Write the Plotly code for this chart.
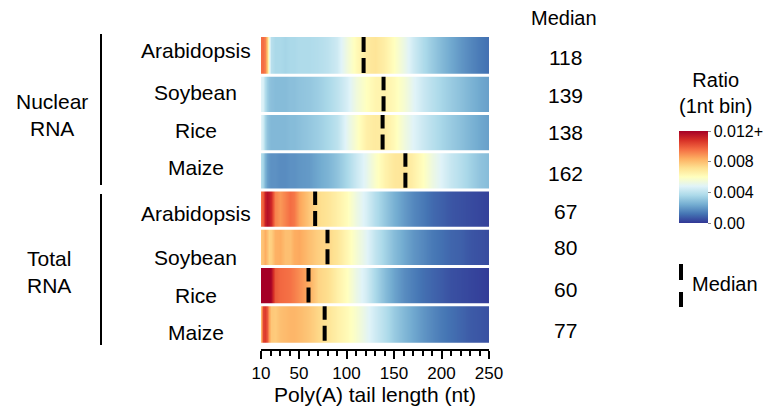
import plotly.graph_objects as go

# ---- data ----
species = ["Arabidopsis", "Soybean", "Rice", "Maize",
           "Arabidopsis", "Soybean", "Rice", "Maize"]
groups = ["Nuclear<br>RNA", "Total<br>RNA"]
medians = [118, 139, 138, 162, 67, 80, 60, 77]

tail_len = [10, 12, 14, 16, 18, 20, 25, 30, 35, 40, 45, 50, 60, 70, 80, 90, 100,
            110, 120, 130, 140, 150, 160, 170, 180, 190, 200, 210, 220, 230, 240, 250]

nuc_arabidopsis = [0.0096, 0.0096, 0.0092, 0.0078, 0.0052, 0.0039, 0.0036, 0.0036, 0.0035, 0.0036, 0.0036, 0.0037,
                   0.0037, 0.0038, 0.0040, 0.0044, 0.0054, 0.0062, 0.0068, 0.0070, 0.0066, 0.0060, 0.0052, 0.0044,
                   0.0037, 0.0032, 0.0027, 0.0023, 0.0019, 0.0016, 0.0013, 0.0011]
nuc_soybean = [0.0048, 0.0046, 0.0038, 0.0033, 0.0030, 0.0029, 0.0028, 0.0028, 0.0028, 0.0029, 0.0029, 0.0030,
               0.0031, 0.0033, 0.0036, 0.0040, 0.0046, 0.0054, 0.0060, 0.0064, 0.0065, 0.0062, 0.0056, 0.0049,
               0.0043, 0.0039, 0.0035, 0.0032, 0.0029, 0.0026, 0.0023, 0.0021]
nuc_rice = [0.0048, 0.0044, 0.0035, 0.0030, 0.0028, 0.0027, 0.0027, 0.0027, 0.0027, 0.0028, 0.0028, 0.0029,
            0.0031, 0.0033, 0.0036, 0.0040, 0.0050, 0.0058, 0.0066, 0.0068, 0.0067, 0.0062, 0.0054, 0.0048,
            0.0043, 0.0039, 0.0035, 0.0032, 0.0029, 0.0026, 0.0023, 0.0021]
nuc_maize = [0.0038, 0.0034, 0.0026, 0.0021, 0.0019, 0.0018, 0.0018, 0.0017, 0.0017, 0.0018, 0.0018, 0.0019,
             0.0020, 0.0023, 0.0026, 0.0030, 0.0036, 0.0043, 0.0050, 0.0058, 0.0065, 0.0069, 0.0070, 0.0066,
             0.0060, 0.0053, 0.0047, 0.0042, 0.0038, 0.0034, 0.0030, 0.0028]
tot_arabidopsis = [0.0095, 0.0100, 0.0112, 0.0116, 0.0114, 0.0110, 0.0092, 0.0088, 0.0092, 0.0096, 0.0094, 0.0086,
                   0.0078, 0.0073, 0.0070, 0.0066, 0.0061, 0.0053, 0.0046, 0.0038, 0.0031, 0.0025, 0.0020, 0.0016,
                   0.0013, 0.0010, 0.0008, 0.0006, 0.0005, 0.0004, 0.0003, 0.0002]
tot_soybean = [0.0078, 0.0080, 0.0084, 0.0080, 0.0075, 0.0076, 0.0083, 0.0084, 0.0080, 0.0080, 0.0084, 0.0085,
               0.0080, 0.0076, 0.0074, 0.0070, 0.0063, 0.0056, 0.0049, 0.0041, 0.0034, 0.0028, 0.0023, 0.0019,
               0.0016, 0.0013, 0.0011, 0.0009, 0.0008, 0.0006, 0.0005, 0.0004]
tot_rice = [0.0130, 0.0130, 0.0128, 0.0126, 0.0124, 0.0118, 0.0100, 0.0097, 0.0096, 0.0095, 0.0093, 0.0090,
            0.0084, 0.0075, 0.0072, 0.0066, 0.0060, 0.0052, 0.0045, 0.0036, 0.0028, 0.0022, 0.0017, 0.0014,
            0.0011, 0.0009, 0.0007, 0.0005, 0.0004, 0.0003, 0.0002, 0.0001]
tot_maize = [0.0082, 0.0104, 0.0106, 0.0100, 0.0086, 0.0078, 0.0077, 0.0080, 0.0081, 0.0082, 0.0082, 0.0081,
             0.0078, 0.0074, 0.0070, 0.0066, 0.0062, 0.0057, 0.0050, 0.0044, 0.0038, 0.0032, 0.0027, 0.0023,
             0.0019, 0.0016, 0.0013, 0.0011, 0.0009, 0.0007, 0.0006, 0.0005]

rows = [nuc_arabidopsis, nuc_soybean, nuc_rice, nuc_maize,
        tot_arabidopsis, tot_soybean, tot_rice, tot_maize]

cbar_tickvals = [0, 0.004, 0.008, 0.012]
cbar_ticktext = ["0.00", "0.004", "0.008", "0.012+"]
x_tickvals = [10, 50, 100, 150, 200, 250]
x_minor = [20, 30, 40, 60, 70, 80, 90, 110, 120, 130, 140, 160, 170, 180, 190, 210, 220, 230, 240]

# ---- layout helpers ----
W, H = 765, 408
FONT = "Liberation Sans, Arial, sans-serif"


def px(xp):
    return xp / W


def py(yp):
    return 1 - yp / H


fig = go.Figure()

for i, vals in enumerate(rows):
    fig.add_trace(go.Heatmap(x=tail_len, y=[i], z=[vals], coloraxis="coloraxis",
                             zsmooth="best", hoverinfo="skip"))

# white separators between rows
shapes = []
for i in range(7):
    shapes.append(dict(type="line", xref="x", yref="y", x0=10, x1=250, y0=i + 0.5, y1=i + 0.5,
                       line=dict(color="white", width=3), layer="above"))

# median dashes
for i, m in enumerate(medians):
    fig.add_trace(go.Scatter(x=[m, m], y=[i - 0.5, i + 0.5], mode="lines",
                             line=dict(color="black", width=4, dash="15px,6px"),
                             showlegend=False, hoverinfo="skip"))

# group brackets
shapes.append(dict(type="line", xref="paper", yref="paper", x0=px(101), x1=px(101), y0=py(34), y1=py(185),
                   line=dict(color="black", width=2)))
shapes.append(dict(type="line", xref="paper", yref="paper", x0=px(101), x1=px(101), y0=py(194), y1=py(345),
                   line=dict(color="black", width=2)))
# legend dashes
shapes.append(dict(type="line", xref="paper", yref="paper", x0=px(681), x1=px(681), y0=py(264), y1=py(280),
                   line=dict(color="black", width=4)))
shapes.append(dict(type="line", xref="paper", yref="paper", x0=px(681), x1=px(681), y0=py(292), y1=py(307),
                   line=dict(color="black", width=4)))

annotations = []
label_y = [50, 93, 130, 167, 213, 257, 295, 332]
med_y = [58, 95, 133, 173, 211, 248, 289, 330]
for i in range(8):
    annotations.append(dict(text=species[i], x=px(196), y=py(label_y[i]), xref="paper", yref="paper",
                            xanchor="center", yanchor="middle", showarrow=False, font=dict(size=21)))
    annotations.append(dict(text=str(medians[i]), x=px(565), y=py(med_y[i]), xref="paper", yref="paper",
                            xanchor="center", yanchor="middle", showarrow=False, font=dict(size=21)))
annotations.append(dict(text="Median", x=px(564), y=py(18), xref="paper", yref="paper",
                        xanchor="center", yanchor="middle", showarrow=False, font=dict(size=20)))
annotations.append(dict(text=groups[0], x=px(52), y=py(115), xref="paper", yref="paper",
                        xanchor="center", yanchor="middle", showarrow=False, font=dict(size=21)))
annotations.append(dict(text=groups[1], x=px(49), y=py(272), xref="paper", yref="paper",
                        xanchor="center", yanchor="middle", showarrow=False, font=dict(size=21)))
annotations.append(dict(text="Ratio<br>(1nt bin)", x=px(715), y=py(93), xref="paper", yref="paper",
                        xanchor="center", yanchor="middle", showarrow=False, font=dict(size=20)))
annotations.append(dict(text="Median", x=px(690), y=py(284), xref="paper", yref="paper",
                        xanchor="left", yanchor="middle", showarrow=False, font=dict(size=20)))

fig.update_layout(
    width=W, height=H,
    margin=dict(l=0, r=0, t=0, b=0, autoexpand=False),
    paper_bgcolor="white", plot_bgcolor="white",
    font=dict(family=FONT, color="black", size=18),
    showlegend=False,
    xaxis=dict(domain=[px(261), px(489)], range=[10, 250], tickmode="array", tickvals=x_tickvals,
               ticks="outside", ticklen=8, tickwidth=2, tickcolor="black",
               minor=dict(tickmode="array", tickvals=x_minor, ticks="outside", ticklen=5, tickwidth=1.5,
                          tickcolor="black"),
               showline=True, linecolor="black", linewidth=2, showgrid=False, zeroline=False,
               tickfont=dict(size=17), automargin=False,
               title=dict(text="Poly(A) tail length (nt)", font=dict(size=21), standoff=2)),
    yaxis=dict(domain=[py(349), py(37)], range=[7.657, -0.5], showticklabels=False, ticks="",
               showgrid=False, zeroline=False, showline=False, automargin=False),
    coloraxis=dict(colorscale="RdYlBu", reversescale=True, cmin=0, cmax=0.012,
                   colorbar=dict(x=px(679), xanchor="left", xpad=0, ypad=0,
                                 y=py(177), yanchor="middle", lenmode="pixels", len=92,
                                 thicknessmode="pixels", thickness=29, outlinewidth=0,
                                 tickvals=cbar_tickvals, ticktext=cbar_ticktext,
                                 ticks="outside", ticklen=3, tickcolor="#888",
                                 tickfont=dict(size=16))),
    shapes=shapes,
    annotations=annotations,
)

fig.write_html("out.html")
